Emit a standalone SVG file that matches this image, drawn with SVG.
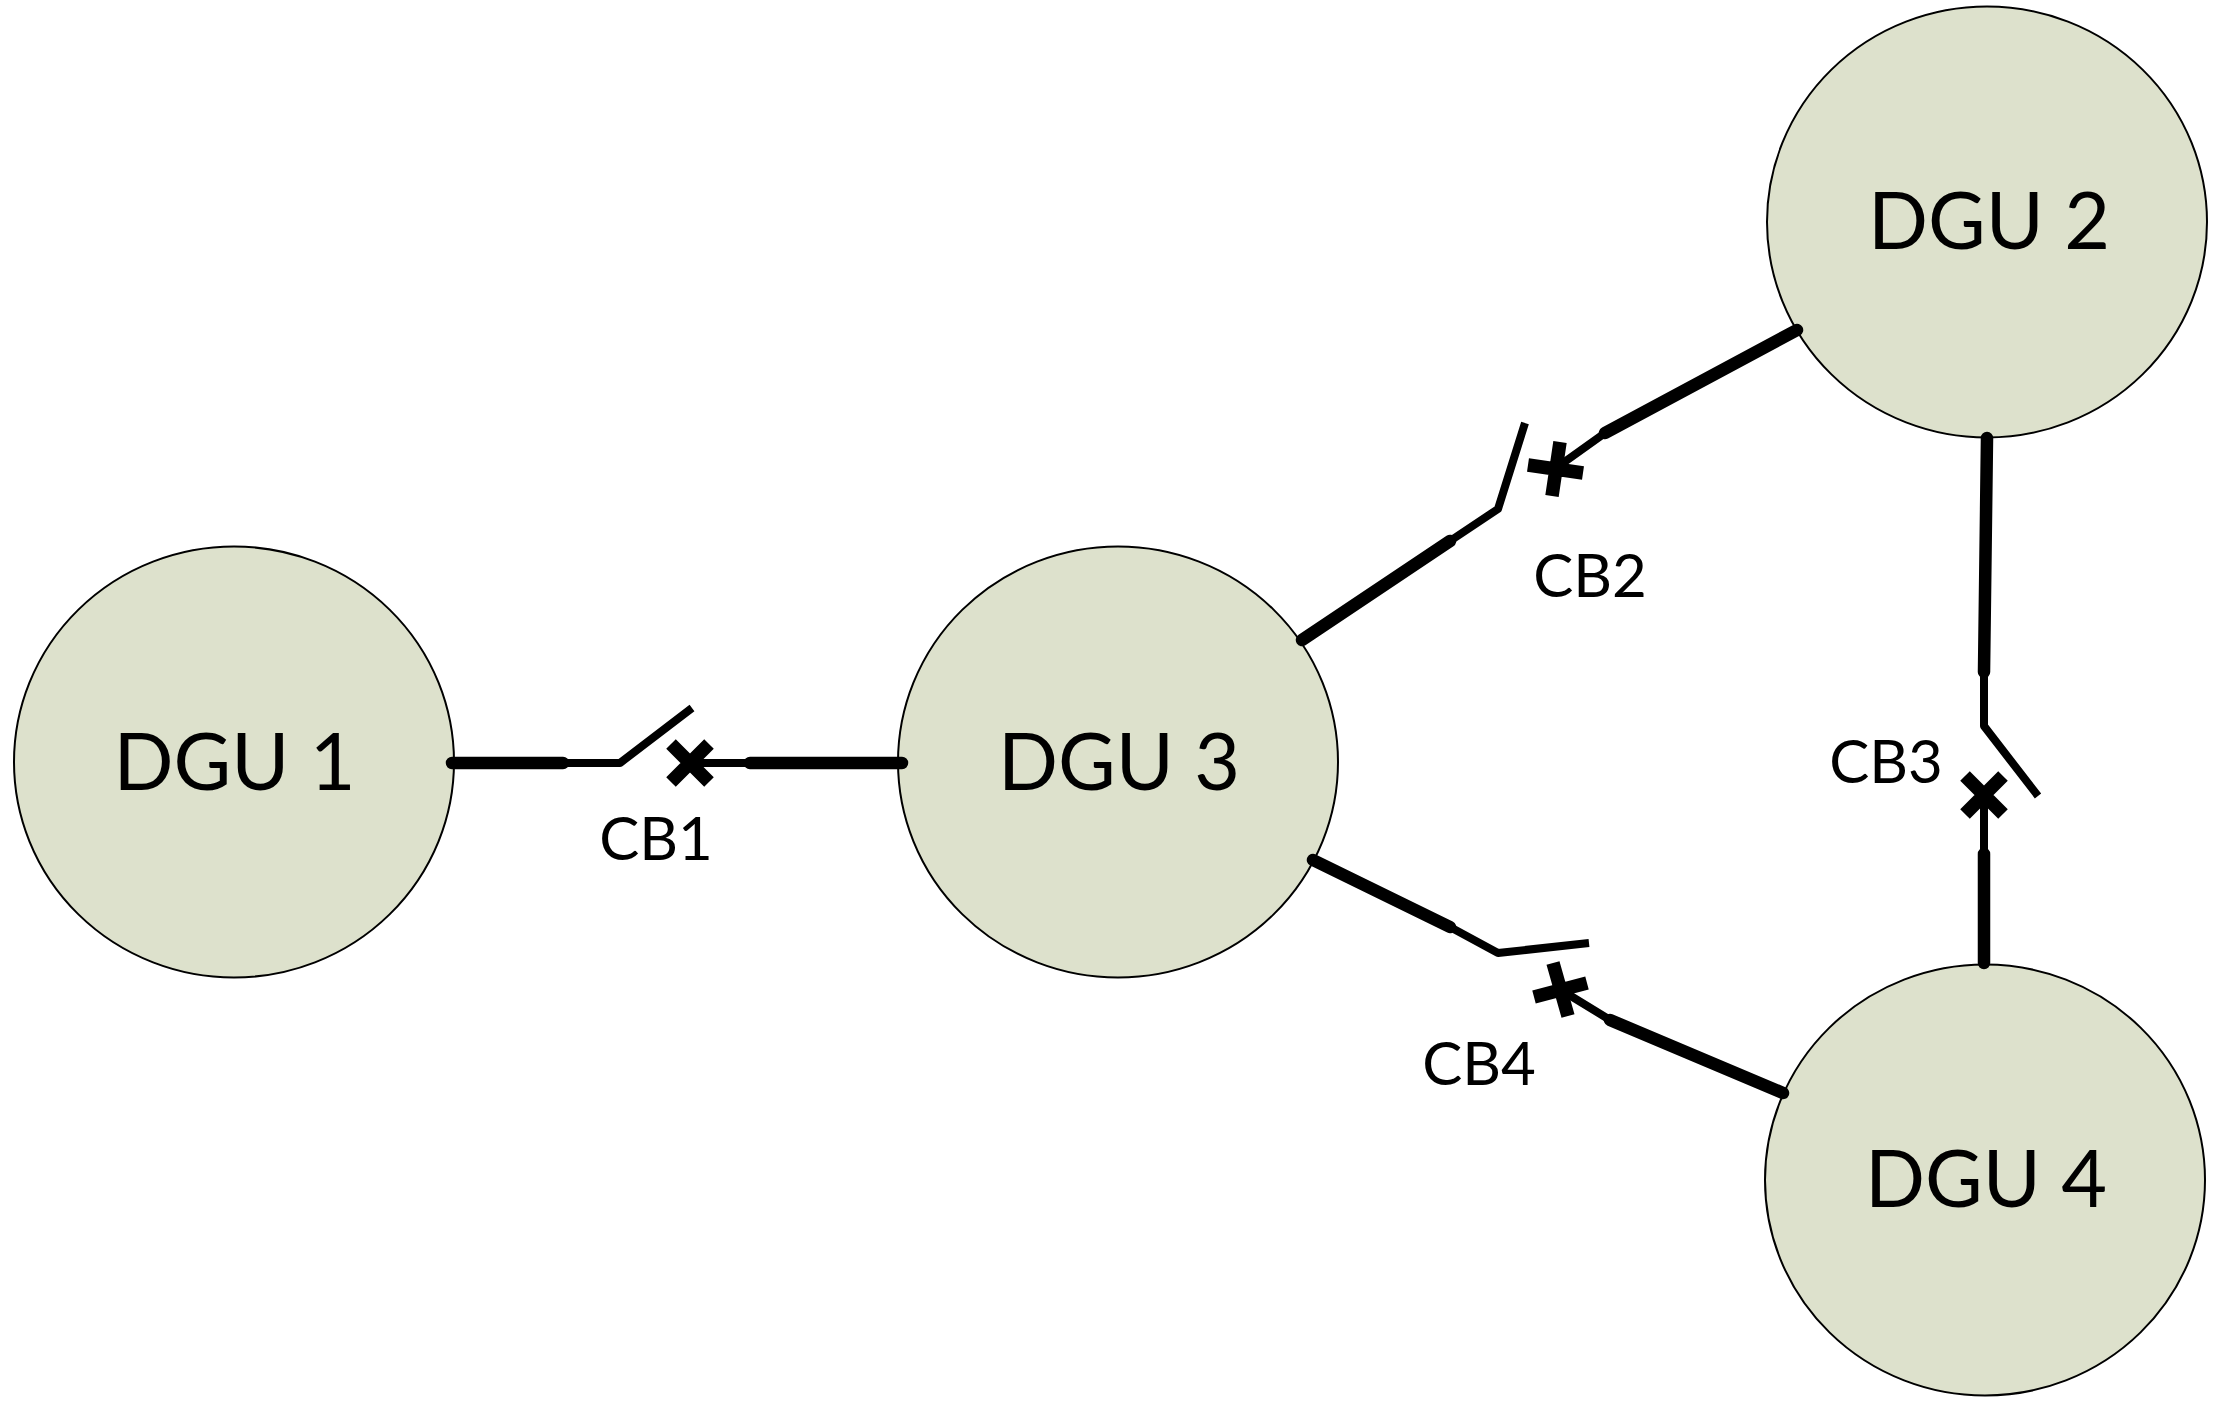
<svg xmlns="http://www.w3.org/2000/svg" width="2225" height="1411" viewBox="0 0 2225 1411">
<style>
.n{fill:#dde1cc;stroke:#000;stroke-width:2}
.t{font-family:Lato,"Liberation Sans",sans-serif;font-size:79px;fill:#000;text-anchor:middle}
.l{font-family:Lato,"Liberation Sans",sans-serif;font-size:60px;fill:#000;text-anchor:middle}
.thick{fill:none;stroke:#000;stroke-width:12.5;stroke-linecap:round}
.thin{fill:none;stroke:#000;stroke-width:8;stroke-linejoin:round}
.x{fill:none;stroke:#000;stroke-width:13.5}
</style>
<rect width="2225" height="1411" fill="#fff"/>
<g id="dgu1"><ellipse class="n" cx="234" cy="762" rx="220" ry="215.5"/><text class="t" x="234.500" y="790">DGU 1</text></g>
<g id="dgu3"><ellipse class="n" cx="1118" cy="762" rx="220" ry="215.5"/><text class="t" x="1119" y="790">DGU 3</text></g>
<g id="dgu2"><ellipse class="n" cx="1987" cy="222" rx="220" ry="215.5"/><text class="t" x="1989" y="249">DGU 2</text></g>
<g id="dgu4"><ellipse class="n" cx="1985" cy="1180" rx="220" ry="215.5"/><text class="t" x="1986" y="1207">DGU 4</text></g>
<g id="connectors">
<path class="thick" d="M452 763H563M750 763H902"/>
<path class="thin" d="M563 763H620L692 708M690 763H750"/>
<path class="x" d="M671 744L709 782M709 744L671 782"/>
<path class="thick" d="M1302 640L1450 541M1605 433L1797 330"/>
<path class="thin" d="M1450 541L1498 509L1525 423M1556 468L1605 433"/>
<path class="x" d="M1560 442L1552 496M1528 465L1583 473"/>
<path class="thick" d="M1313 860L1450 927M1610 1020L1783 1093"/>
<path class="thin" d="M1450 927L1498 953L1589 943M1561 990L1610 1020"/>
<path class="x" d="M1553 963L1568 1016M1534 997L1587 983"/>
<path class="thick" d="M1987 438L1984 672M1984 854V963"/>
<path class="thin" d="M1984 672V726L2038 796M1984 795V854"/>
<path class="x" d="M1965 776L2003 814M2003 776L1965 814"/>
</g>
<g id="labels">
<text class="l" x="656" y="860">CB1</text>
<text class="l" x="1590" y="597">CB2</text>
<text class="l" x="1479" y="1085">CB4</text>
<text class="l" x="1886" y="783">CB3</text>
</g>
</svg>
